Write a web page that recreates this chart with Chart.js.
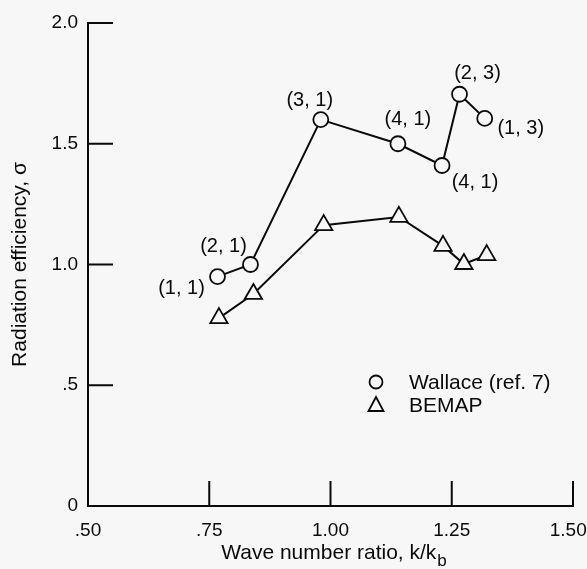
<!DOCTYPE html>
<html>
<head>
<meta charset="utf-8">
<script src="https://cdn.jsdelivr.net/npm/chart.js@4"></script>
<style>
  body { margin: 0; background: #f7f7f7; }
  #wrap { width: 587px; height: 569px; }
</style>
</head>
<body>
<div id="wrap"><canvas id="chart"></canvas></div>
<script>
// wave number ratio k/kb and radiation efficiency sigma
const wallaceK = [0.767, 0.835, 0.98, 1.139, 1.23, 1.266, 1.318];
const wallaceSigma = [0.95, 1.0, 1.60, 1.50, 1.41, 1.705, 1.605];
const wallaceModes = ["(1, 1)", "(2, 1)", "(3, 1)", "(4, 1)", "(4, 1)", "(2, 3)", "(1, 3)"];
const bemapK = [0.77, 0.841, 0.986, 1.141, 1.232, 1.275, 1.322];
const bemapSigma = [0.778, 0.878, 1.163, 1.197, 1.077, 1.002, 1.039];
const xTicks = [".50", ".75", "1.00", "1.25", "1.50"];
const yTicks = ["0", ".5", "1.0", "1.5", "2.0"];
const seriesNames = ["Wallace (ref. 7)", "BEMAP"];

const ink = "#0a0a0a";
const paper = "#f7f7f7";
const font = "Liberation Sans, Arial, Helvetica, sans-serif";

// where the mode labels sit, relative to their points
const modeOffsets = [[-36, 12], [-27, -18], [-11, -19], [10, -24], [33, 17], [18, -21], [36, 10]];

const extras = {
  id: "extras",
  beforeDraw(chart) {
    const ctx = chart.ctx;
    ctx.save();
    ctx.fillStyle = paper;
    ctx.fillRect(0, 0, chart.width, chart.height);
    ctx.restore();
  },
  beforeDatasetsDraw(chart) {
    const ctx = chart.ctx;
    const xs = chart.scales.x, ys = chart.scales.y;
    const a = chart.chartArea;
    ctx.save();
    ctx.strokeStyle = ink;
    ctx.lineWidth = 2;
    ctx.beginPath();
    xTicks.forEach(t => {
      const px = xs.getPixelForValue(parseFloat(t));
      ctx.moveTo(px, a.bottom);
      ctx.lineTo(px, a.bottom - 25);
    });
    yTicks.forEach(t => {
      const py = ys.getPixelForValue(parseFloat(t));
      ctx.moveTo(a.left, py);
      ctx.lineTo(a.left + 25, py);
    });
    ctx.stroke();
    ctx.restore();
  },
  afterDraw(chart) {
    const ctx = chart.ctx;
    const xs = chart.scales.x, ys = chart.scales.y;
    const a = chart.chartArea;
    ctx.save();
    ctx.fillStyle = ink;
    ctx.textAlign = "center";
    ctx.textBaseline = "middle";
    ctx.font = "20px " + font;
    wallaceModes.forEach((m, i) => {
      const px = xs.getPixelForValue(wallaceK[i]);
      const py = ys.getPixelForValue(wallaceSigma[i]);
      ctx.fillText(m, px + modeOffsets[i][0], py + modeOffsets[i][1]);
    });

    // legend
    const lx = a.left + 288, ly = a.top + 359;
    ctx.strokeStyle = ink;
    ctx.lineWidth = 1.8;
    ctx.beginPath();
    ctx.arc(lx, ly, 6.5, 0, Math.PI * 2);
    ctx.stroke();
    ctx.beginPath();
    ctx.moveTo(lx, ly + 15);
    ctx.lineTo(lx + 7.5, ly + 29);
    ctx.lineTo(lx - 7.5, ly + 29);
    ctx.closePath();
    ctx.stroke();
    ctx.textAlign = "left";
    ctx.font = "21px " + font;
    ctx.fillText(seriesNames[0], lx + 33, ly + 1);
    ctx.fillText(seriesNames[1], lx + 33, ly + 24);

    // x axis title with subscript
    const main = "Wave number ratio, k/k";
    ctx.font = "21px " + font;
    const w1 = ctx.measureText(main).width;
    ctx.font = "17px " + font;
    const w2 = ctx.measureText("b").width;
    const x0 = (a.left + a.right) / 2 + 3 - (w1 + w2) / 2;
    ctx.textBaseline = "alphabetic";
    ctx.font = "21px " + font;
    ctx.fillText(main, x0, 559);
    ctx.font = "17px " + font;
    ctx.fillText("b", x0 + w1 + 1, 566);
    ctx.restore();
  }
};

new Chart(document.getElementById("chart"), {
  type: "scatter",
  data: {
    datasets: [
      {
        label: seriesNames[0],
        data: wallaceK.map((k, i) => ({ x: k, y: wallaceSigma[i] })),
        showLine: true,
        borderColor: ink,
        borderWidth: 2,
        pointStyle: "circle",
        pointRadius: 7.5,
        pointBorderWidth: 1.8,
        pointBackgroundColor: paper,
        pointBorderColor: ink
      },
      {
        label: seriesNames[1],
        data: bemapK.map((k, i) => ({ x: k, y: bemapSigma[i] })),
        showLine: true,
        borderColor: ink,
        borderWidth: 2,
        pointStyle: "triangle",
        pointRadius: 10,
        pointBorderWidth: 1.8,
        pointBackgroundColor: paper,
        pointBorderColor: ink
      }
    ]
  },
  options: {
    responsive: true,
    maintainAspectRatio: false,
    animation: false,
    events: [],
    layout: { padding: { top: 23, right: 14, left: 0, bottom: 0 } },
    plugins: {
      legend: { display: false },
      tooltip: { enabled: false }
    },
    scales: {
      x: {
        type: "linear",
        min: 0.5,
        max: 1.5,
        afterBuildTicks: s => { s.ticks = xTicks.map(t => ({ value: parseFloat(t) })); },
        ticks: {
          // last label nudged left so it stays inside the page, as in the original
          callback: (v, i) => xTicks[i] + (i === xTicks.length - 1 ? "\u2002" : ""),
          color: ink,
          font: { family: font, size: 19 },
          padding: 13,
          maxRotation: 0
        },
        grid: { display: false, drawTicks: false },
        border: { display: true, color: ink, width: 2 },
        afterFit: s => { s.height = 63; s.paddingLeft = 0; s.paddingRight = 0; }
      },
      y: {
        type: "linear",
        min: 0,
        max: 2,
        afterBuildTicks: s => { s.ticks = yTicks.map(t => ({ value: parseFloat(t) })); },
        ticks: {
          callback: (v, i) => yTicks[i],
          color: ink,
          font: { family: font, size: 19 },
          padding: 10
        },
        grid: { display: false, drawTicks: false },
        border: { display: true, color: ink, width: 2 },
        title: {
          display: true,
          text: "Radiation efficiency, σ",
          color: ink,
          font: { family: font, size: 21 },
          padding: { top: 8 }
        },
        afterFit: s => { s.width = 88; s.paddingTop = 0; s.paddingBottom = 0; }
      }
    }
  },
  plugins: [extras]
});
</script>
</body>
</html>
